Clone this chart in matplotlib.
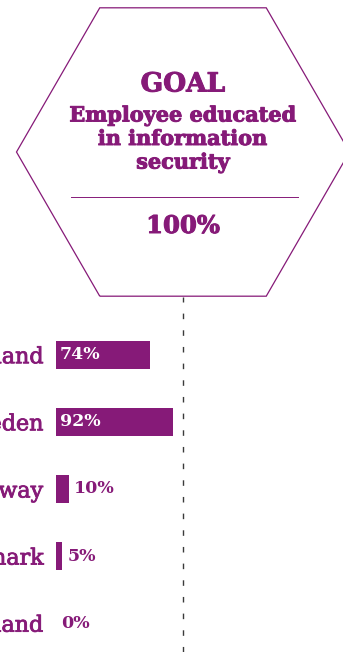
import matplotlib.pyplot as plt
import matplotlib.patheffects as pe
from matplotlib.patches import RegularPolygon

countries = ['Finland', 'Sweden', 'Norway', 'Denmark', 'Iceland']
educated = [74, 92, 10, 5, 0]
goal = 100
goal_title = 'GOAL'
goal_text = 'Employee educated\nin information\nsecurity'

PURPLE = '#861a78'
W, H = 343, 652

fig = plt.figure(figsize=(W / 100, H / 100), dpi=100)
thick = [pe.withStroke(linewidth=0.7, foreground=PURPLE)]

# bars: 0% at x=56px, 100% at the goal line
bax = fig.add_axes([56 / W, 0, (183 - 56) / W, (H - 297) / H])
ypos = list(range(len(countries)))
bax.barh(ypos, educated, height=0.42, color=PURPLE)
bax.set_xlim(0, goal)
bax.set_ylim(4.43, -0.86)
bax.axvline(goal, color='#3a3a3a', lw=1.0, dashes=(4, 8), clip_on=False)
for s in bax.spines.values():
    s.set_visible(False)
bax.set_xticks([])
bax.set_yticks(ypos)
bax.set_yticklabels(countries, family='DejaVu Serif', fontsize=16, color=PURPLE,
                    path_effects=[pe.withStroke(linewidth=0.6, foreground=PURPLE)])
bax.tick_params(axis='y', length=0, pad=9)
bax.patch.set_alpha(0)

for y, v in zip(ypos, educated):
    if v >= 50:
        bax.annotate(f'{v}%', (0, y), xytext=(4, 0), textcoords='offset pixels',
                     ha='left', va='center', color='white', fontsize=12.5,
                     fontweight='bold', family='DejaVu Serif')
    else:
        bax.annotate(f'{v}%', (v, y), xytext=(5, 0), textcoords='offset pixels',
                     ha='left', va='center', color=PURPLE, fontsize=12.5,
                     fontweight='bold', family='DejaVu Serif')

# hexagon with the goal, pixel coordinates
hax = fig.add_axes([0, 0, 1, 1])
hax.set_xlim(0, W)
hax.set_ylim(H, 0)
hax.axis('off')
hax.patch.set_alpha(0)
hex_cx, hex_cy, hex_r = 183, 152, 166.5
hax.add_patch(RegularPolygon((hex_cx, hex_cy), 6, radius=hex_r, orientation=3.14159 / 6,
                             facecolor='none', edgecolor=PURPLE, lw=0.9))
hax.text(hex_cx, 84, goal_title, ha='center', va='center', color=PURPLE,
         fontsize=19, fontweight='bold', family='DejaVu Serif', path_effects=thick)
hax.text(hex_cx, 139, goal_text, ha='center', va='center', color=PURPLE,
         fontsize=15, fontweight='bold', family='DejaVu Serif', linespacing=1.22,
         path_effects=thick)
hax.plot([71, 298], [197, 197], color=PURPLE, lw=0.7)
hax.text(hex_cx, 226, f'{goal}%', ha='center', va='center', color=PURPLE,
         fontsize=17.5, fontweight='bold', family='DejaVu Serif', path_effects=thick)

fig.savefig('out.png', dpi=100)
